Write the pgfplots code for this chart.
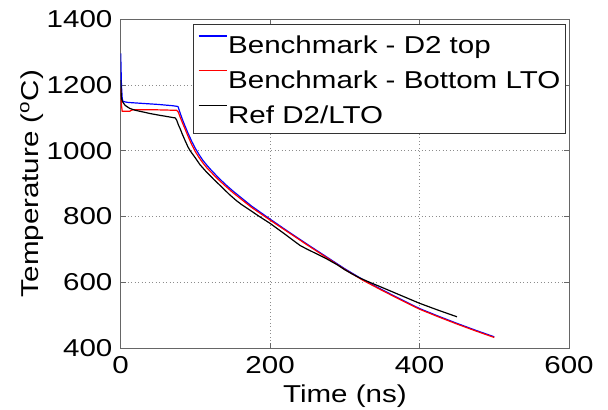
\documentclass[border=0pt]{standalone}
\usepackage{fontspec}
\setmainfont{Liberation Sans}[FakeStretch=1.21]
\usepackage{pgfplots}
\pgfplotsset{compat=1.18}
\begin{document}
\fontsize{24.5}{28}\selectfont
\begin{tikzpicture}
\begin{axis}[name=ax, width=448.3bp, height=328.7bp, scale only axis,
 xmin=0, xmax=600, ymin=400, ymax=1400,
 xtick={0,200,400,600}, ytick={400,600,800,1000,1200,1400},
 tick align=inside, major tick length=5bp,
 axis line style={black!60, line width=0.8bp},
 every tick/.style={black!60, line width=0.8bp},
 grid=major, major grid style={black!45, line width=0.6bp, dash pattern=on 1bp off 2.5bp},
 tick label style={font=\fontsize{24.5}{28}\selectfont},
 label style={font=\fontsize{24.5}{28}\selectfont},
 /pgf/number format/assume math mode=true,
 /pgf/number format/1000 sep={},
 xlabel={Time (ns)}, ylabel={Temperature (\textsuperscript{o}C)},
 xlabel style={at={(axis description cs:0.5,-0.1658)}, anchor=base},
 ylabel style={at={(axis description cs:-0.1834,0.5)}, anchor=base, rotate=0},
 legend image code/.code={\draw[#1] (0bp,8.7bp) -- (28bp,8.7bp);},
 legend style={at={(axis description cs:0.9926,0.9848)}, anchor=north east,
   draw=black!80, line width=0.8bp, fill=white, inner xsep=5bp, inner ysep=10.7bp,
   row sep=16.8bp, column sep=1bp, font=\fontsize{24.5}{28}\selectfont,
   nodes={inner sep=0bp, text height=17.5bp, text depth=0bp}},
 legend cell align=left,
]
\addplot[blue, line width=1.2bp] coordinates {
(0,1296) (1,1200) (2,1160) (3,1150) (10,1147) (30,1144) (50,1141) (70,1137) (76,1135) (77,1133)
(80,1112) (83,1093) (86,1076) (90,1054) (95,1029) (100,1007) (105,988) (110,971) (115,957) (120,944)
(130,920) (140,898) (150,878) (175,832) (200,792) (225,753) (250,715) (275,678) (300,641)
(325,607) (350,577) (375,548) (400,520) (425,497) (450,475) (475,454) (500,434)};
\addlegendentry{Benchmark - D2 top}
\addplot[red, line width=1.2bp] coordinates {
(0,1190) (1,1140) (2,1120) (12,1120) (14,1123) (17,1125) (40,1125) (60,1124) (75,1123) (77,1118)
(80,1100) (83,1083) (86,1067) (90,1045) (95,1019) (100,997) (105,979) (110,963) (115,949) (120,937)
(130,914) (140,893) (150,873) (175,828) (200,789) (225,751) (250,713) (275,676) (300,639)
(325,605) (350,575) (375,546) (400,518) (425,495) (450,473) (475,452) (500,432)};
\addlegendentry{Benchmark - Bottom LTO}
\addplot[black, line width=1.2bp] coordinates {
(0,1215) (0.5,1180) (1,1160) (2.5,1149) (6,1138) (12,1129) (20,1123) (30,1118) (40,1113) (52,1108)
(60,1105) (70,1101) (73,1100) (75,1093) (77,1080) (80,1065) (82,1053) (86,1032) (90,1012) (93,1000)
(100,978) (106,958) (115,935) (125,912) (137,886) (145,868) (155,848) (162,836) (170,824) (185,801)
(200,779) (220,746) (240,712) (250,700) (260,689) (275,672) (290,653) (300,638) (310,625) (320,613)
(330,603) (350,584) (375,560) (400,536) (425,515) (450,495)};
\addlegendentry{Ref D2/LTO}
\end{axis}
\pgfresetboundingbox
\path[use as bounding box] ([shift={(-120.7bp,-61bp)}]ax.south west) rectangle ([shift={(39bp,19.3bp)}]ax.north east);
\end{tikzpicture}
\end{document}
